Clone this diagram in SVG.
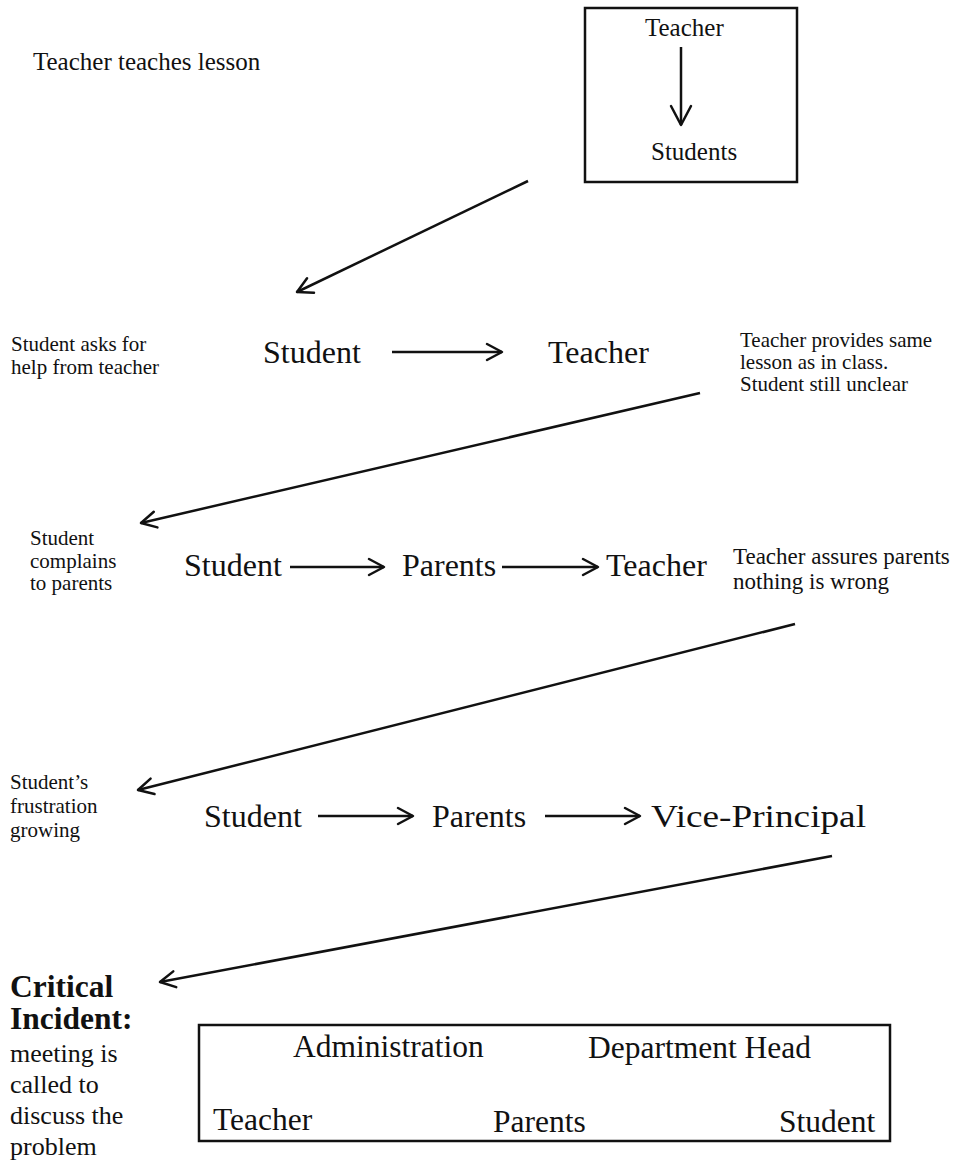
<svg xmlns="http://www.w3.org/2000/svg" width="965" height="1162" viewBox="0 0 965 1162">
<style>
text{font-family:"Liberation Serif","Times New Roman",serif;fill:#111}
.big{font-size:32px}
.box{font-size:25px}
.lbl{font-size:21px}
.lbl2{font-size:23px}
.bb{font-size:31.5px}
.crit{font-size:31.5px;font-weight:bold}
.note{font-size:26px}
.ln{stroke:#111;stroke-width:2.5;fill:none}
.frame{stroke:#111;stroke-width:2.5;fill:#fff}
</style>
<defs>
<marker id="chev" viewBox="0 0 20 20" refX="18" refY="10" markerWidth="20" markerHeight="20" markerUnits="userSpaceOnUse" orient="auto">
<path d="M3,2 L18,10 L3,18" fill="none" stroke="#111" stroke-width="2.5" stroke-linecap="round" stroke-linejoin="round"/>
</marker>
<marker id="chevL" viewBox="0 0 24 24" refX="22" refY="12" markerWidth="24" markerHeight="24" markerUnits="userSpaceOnUse" orient="auto">
<path d="M3,2 L22,12 L3,22" fill="none" stroke="#111" stroke-width="2.5" stroke-linecap="round" stroke-linejoin="round"/>
</marker>
</defs>
<rect width="965" height="1162" fill="#fff"/>

<g id="intro"><text class="box" x="33" y="70">Teacher teaches lesson</text></g>

<g id="top-box">
<rect class="frame" x="585" y="8" width="212" height="174"/>
<text class="box" x="645" y="36">Teacher</text>
<text class="box" x="651" y="160">Students</text>
</g>

<g id="row1-left"><text class="lbl" x="11" y="351">Student asks for</text><text class="lbl" x="11" y="374">help from teacher</text></g>
<g id="row1-student"><text class="big" x="263" y="363">Student</text></g>
<g id="row1-teacher"><text class="big" x="548" y="363">Teacher</text></g>
<g id="row1-right"><text class="lbl" x="740" y="347">Teacher provides same</text><text class="lbl" x="740" y="369">lesson as in class.</text><text class="lbl" x="740" y="391">Student still unclear</text></g>

<g id="row2-left"><text class="lbl" x="30" y="545">Student</text><text class="lbl" x="30" y="568">complains</text><text class="lbl" x="30" y="590">to parents</text></g>
<g id="row2-student"><text class="big" x="184" y="576">Student</text></g>
<g id="row2-parents"><text class="big" x="402" y="576">Parents</text></g>
<g id="row2-teacher"><text class="big" x="606" y="576">Teacher</text></g>
<g id="row2-right"><text class="lbl2" x="733" y="564">Teacher assures parents</text><text class="lbl2" x="733" y="589">nothing is wrong</text></g>

<g id="row3-left"><text class="lbl" x="10" y="789">Student’s</text><text class="lbl" x="10" y="813">frustration</text><text class="lbl" x="10" y="837">growing</text></g>
<g id="row3-student"><text class="big" x="204" y="827">Student</text></g>
<g id="row3-parents"><text class="big" x="432" y="827">Parents</text></g>
<g id="row3-vp"><text class="big" x="651" y="827" textLength="215" lengthAdjust="spacingAndGlyphs">Vice-Principal</text></g>

<g id="critical">
<text class="crit" x="10" y="997">Critical</text>
<text class="crit" x="10" y="1029">Incident:</text>
<text class="note" x="10" y="1062">meeting is</text>
<text class="note" x="10" y="1093">called to</text>
<text class="note" x="10" y="1124">discuss the</text>
<text class="note" x="10" y="1155">problem</text>
</g>

<g id="meeting-box">
<rect class="frame" x="199" y="1025" width="691" height="116"/>
<text class="bb" x="293" y="1057">Administration</text>
<text class="bb" x="588" y="1058">Department Head</text>
<text class="bb" x="213" y="1130">Teacher</text>
<text class="bb" x="493" y="1132">Parents</text>
<text class="bb" x="779" y="1132">Student</text>
</g>

<g id="connectors">
<line class="ln" x1="681" y1="47" x2="681" y2="125" marker-end="url(#chevL)"/>
<line class="ln" x1="528" y1="181" x2="297" y2="292" marker-end="url(#chev)"/>
<line class="ln" x1="392" y1="352" x2="502" y2="352" marker-end="url(#chev)"/>
<line class="ln" x1="700" y1="393" x2="141" y2="523" marker-end="url(#chev)"/>
<line class="ln" x1="290" y1="567" x2="384" y2="567" marker-end="url(#chev)"/>
<line class="ln" x1="502" y1="567" x2="598" y2="567" marker-end="url(#chev)"/>
<line class="ln" x1="795" y1="624" x2="138" y2="790" marker-end="url(#chev)"/>
<line class="ln" x1="318" y1="816" x2="413" y2="816" marker-end="url(#chev)"/>
<line class="ln" x1="545" y1="816" x2="640" y2="816" marker-end="url(#chev)"/>
<line class="ln" x1="832" y1="856" x2="160" y2="982" marker-end="url(#chev)"/>
</g>
</svg>
